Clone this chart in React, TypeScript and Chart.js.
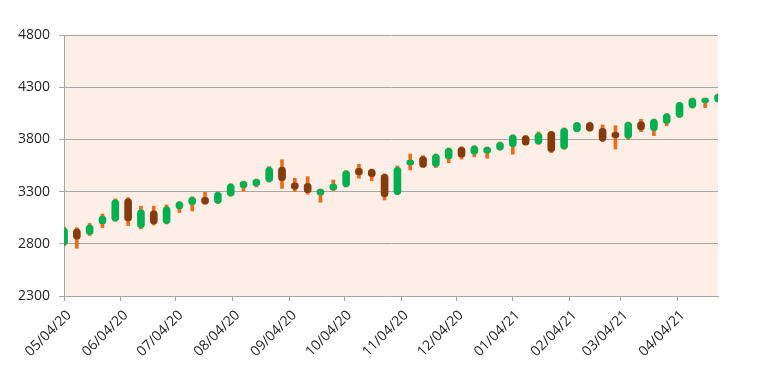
import React, { useEffect, useRef } from "react";
import { Chart, registerables } from "chart.js";

Chart.register(...registerables);

// Weekly candles (MM/DD/YY)
const weekDates = [
  "05/04/20", "05/11/20", "05/18/20", "05/25/20",
  "06/01/20", "06/08/20", "06/15/20", "06/22/20", "06/29/20",
  "07/06/20", "07/13/20", "07/20/20", "07/27/20",
  "08/03/20", "08/10/20", "08/17/20", "08/24/20", "08/31/20",
  "09/07/20", "09/14/20", "09/21/20", "09/28/20",
  "10/05/20", "10/12/20", "10/19/20", "10/26/20",
  "11/02/20", "11/09/20", "11/16/20", "11/23/20", "11/30/20",
  "12/07/20", "12/14/20", "12/21/20", "12/28/20",
  "01/04/21", "01/11/21", "01/18/21", "01/25/21",
  "02/01/21", "02/08/21", "02/15/21", "02/22/21",
  "03/01/21", "03/08/21", "03/15/21", "03/22/21", "03/29/21",
  "04/05/21", "04/12/21", "04/19/21", "04/26/21",
];

const openValues = [
  2790, 2940, 2890, 2990,
  3020, 3230, 2955, 3115, 2995,
  3135, 3175, 3245, 3188,
  3258, 3340, 3355, 3395, 3535,
  3385, 3380, 3268, 3315,
  3347, 3523, 3514, 3466,
  3274, 3555, 3635, 3540, 3612,
  3725, 3658, 3667, 3699,
  3730, 3833, 3756, 3874,
  3708, 3874, 3960, 3906,
  3868, 3811, 3970, 3884, 3954,
  4012, 4104, 4152, 4161,
];

const highValues = [
  2960, 2955, 2995, 3085,
  3230, 3242, 3160, 3160, 3172,
  3205, 3250, 3293, 3297,
  3375, 3400, 3420, 3540, 3605,
  3428, 3443, 3325, 3411,
  3500, 3562, 3516, 3470,
  3545, 3660, 3645, 3660, 3718,
  3730, 3740, 3728, 3775,
  3845, 3838, 3871, 3878,
  3910, 3962, 3965, 3938,
  3931, 3966, 3993, 3995, 4048,
  4155, 4196, 4196, 4234,
];

const lowValues = [
  2780, 2757, 2880, 2955,
  3015, 2975, 2945, 2980, 2990,
  3100, 3115, 3178, 3185,
  3255, 3305, 3345, 3390, 3330,
  3300, 3275, 3198, 3310,
  3345, 3428, 3405, 3220,
  3270, 3507, 3530, 3530, 3577,
  3612, 3635, 3620, 3697,
  3658, 3745, 3752, 3673,
  3705, 3872, 3878, 3778,
  3708, 3800, 3874, 3836, 3931,
  4010, 4100, 4104, 4158,
];

const closeValues = [
  2950, 2845, 2980, 3065,
  3220, 3020, 3125, 2990, 3155,
  3203, 3245, 3182, 3293,
  3373, 3395, 3418, 3533, 3405,
  3322, 3290, 3322, 3373,
  3498, 3460, 3443, 3251,
  3533, 3603, 3533, 3658, 3715,
  3630, 3737, 3725, 3772,
  3842, 3747, 3858, 3682,
  3906, 3960, 3882, 3785,
  3817, 3964, 3890, 3993, 4044,
  4152, 4194, 4194, 4232,
];

const tickLabels = [
  "05/04/20", "06/04/20", "07/04/20", "08/04/20", "09/04/20", "10/04/20",
  "11/04/20", "12/04/20", "01/04/21", "02/04/21", "03/04/21", "04/04/21",
];

const yMin = 2300;
const yMax = 4800;
const yStep = 500;

const UP_COLOR = "#00B050";
const DOWN_COLOR = "#843C0C";
const WICK_COLOR = "#F06C14";
const PLOT_BG = "#FDEEE8";
const GRID_COLOR = "#A6A6A6";
const TEXT_COLOR = "#262626";

function toUtc(s: string): number {
  const [m, d, y] = s.split("/").map(Number);
  return Date.UTC(2000 + y, m - 1, d);
}
const baseUtc = toUtc(weekDates[0]);
function dayIndex(s: string): number {
  return Math.round((toUtc(s) - baseUtc) / 86400000);
}

const plotBackground = {
  id: "plotBackground",
  beforeDraw(chart: any) {
    const { ctx, chartArea } = chart;
    if (!chartArea) return;
    ctx.save();
    ctx.fillStyle = PLOT_BG;
    ctx.fillRect(chartArea.left, chartArea.top, chartArea.right - chartArea.left, chartArea.bottom - chartArea.top);
    ctx.restore();
  },
};

export default function App() {
  const canvasRef = useRef<HTMLCanvasElement | null>(null);

  useEffect(() => {
    const canvas = canvasRef.current;
    if (!canvas) return;

    const bodies = weekDates.map((d, i) => ({
      x: dayIndex(d),
      y: [Math.min(openValues[i], closeValues[i]), Math.max(openValues[i], closeValues[i])],
    }));
    const bodyColors = weekDates.map((_, i) => (closeValues[i] >= openValues[i] ? UP_COLOR : DOWN_COLOR));
    const wicks = weekDates.map((d, i) => ({ x: dayIndex(d), y: [lowValues[i], highValues[i]] }));
    const tickDays = tickLabels.map(dayIndex);
    const labelByDay = new Map<number, string>();
    tickLabels.forEach((l) => labelByDay.set(dayIndex(l), l));

    const font = { family: "'Open Sans', 'Noto Sans', sans-serif", size: 14 };

    const chart = new Chart(canvas, {
      type: "bar",
      data: {
        datasets: [
          {
            label: "Body",
            data: bodies as any,
            backgroundColor: bodyColors,
            barThickness: 7,
            borderRadius: 3.5,
            borderSkipped: false,
            grouped: false,
            order: 0,
            clip: 0,
          } as any,
          {
            label: "Wick",
            data: wicks as any,
            backgroundColor: WICK_COLOR,
            barThickness: 3,
            borderSkipped: false,
            grouped: false,
            order: 1,
            clip: 0,
          } as any,
        ],
      },
      options: {
        animation: false,
        responsive: false,
        maintainAspectRatio: false,
        layout: { padding: { top: 35, right: 39, bottom: 0, left: 0 } },
        plugins: { legend: { display: false }, tooltip: { enabled: false } },
        scales: {
          x: {
            type: "linear",
            offset: false,
            min: 0,
            max: dayIndex(weekDates[weekDates.length - 1]),
            afterBuildTicks: (scale: any) => {
              scale.ticks = tickDays.map((v) => ({ value: v }));
            },
            afterFit: (scale: any) => {
              scale.height = 78;
            },
            ticks: {
              autoSkip: false,
              maxRotation: 45,
              minRotation: 45,
              color: TEXT_COLOR,
              font,
              padding: 6,
              labelOffset: 5,
              callback: (v: any) => labelByDay.get(Math.round(Number(v))) ?? "",
            },
            grid: {
              display: true,
              offset: false,
              drawOnChartArea: false,
              drawTicks: true,
              tickLength: 5,
              color: GRID_COLOR,
            },
            border: { display: true, color: GRID_COLOR, width: 1 },
          },
          y: {
            type: "linear",
            min: yMin,
            max: yMax,
            afterFit: (scale: any) => {
              scale.width = 64;
            },
            ticks: {
              stepSize: yStep,
              color: TEXT_COLOR,
              font,
              padding: 9,
              callback: (v: any) => String(v),
            },
            grid: {
              color: GRID_COLOR,
              lineWidth: 1,
              drawTicks: true,
              tickLength: 5,
            },
            border: { display: true, color: GRID_COLOR, width: 1 },
          },
        },
      },
      plugins: [plotBackground],
    } as any);

    return () => chart.destroy();
  }, []);

  return (
    <div style={{ position: "absolute", left: 0, top: 0, width: 757, height: 374, background: "#fff" }}>
      <canvas ref={canvasRef} width={757} height={374} style={{ display: "block" }} />
    </div>
  );
}
